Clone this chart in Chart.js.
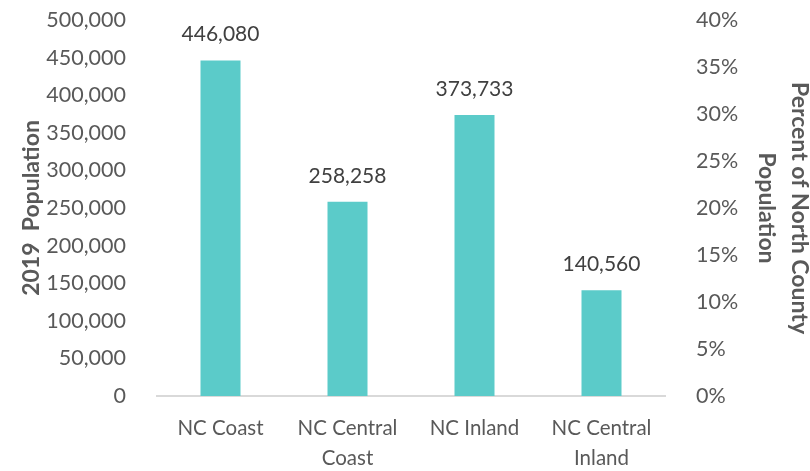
<!DOCTYPE html>
<html>
<head>
<meta charset="utf-8">
<script src="https://cdn.jsdelivr.net/npm/chart.js@4"></script>
<style>
  html, body { margin: 0; padding: 0; background: #fff; overflow: hidden; }
  #wrap { width: 810px; height: 471px; position: relative; }
</style>
</head>
<body>
<div id="wrap"><canvas id="chart"></canvas></div>
<script>
const regions = [["NC Coast"], ["NC Central", "Coast"], ["NC Inland"], ["NC Central", "Inland"]]
const population = [446080, 258258, 373733, 140560]
const percentTicks = [0, 5, 10, 15, 20, 25, 30, 35, 40]

const textGrey = "#595959"
const font = "Lato, 'Open Sans', sans-serif"

// value labels above each bar
const valueLabels = {
  id: "valueLabels",
  afterDatasetsDraw(chart) {
    const { ctx } = chart
    const meta = chart.getDatasetMeta(0)
    ctx.save()
    ctx.font = `21px ${font}`
    ctx.fillStyle = "#404040"
    ctx.textAlign = "center"
    ctx.textBaseline = "middle"
    meta.data.forEach((bar, i) => {
      ctx.fillText(population[i].toLocaleString("en-US"), bar.x, bar.y - 26)
    })
    ctx.restore()
  }
}

// fixed axis box sizes so the plot area lines up with the original
const fitVertical = width => s => {
  s.width = width
  s.paddingTop = 0
  s.paddingBottom = 0
}

new Chart(document.getElementById("chart"), {
  type: "bar",
  data: {
    labels: regions,
    datasets: [{
      data: population,
      backgroundColor: "#5BCBC9",
      barPercentage: 0.315,
      categoryPercentage: 1,
      yAxisID: "y"
    }]
  },
  options: {
    responsive: true,
    maintainAspectRatio: false,
    animation: false,
    layout: { padding: { top: 20, left: 0, right: 0, bottom: 0 } },
    plugins: { legend: { display: false }, tooltip: { enabled: false } },
    scales: {
      x: {
        grid: { display: false },
        border: { color: "#D9D9D9", width: 2 },
        afterFit: s => { s.height = 75 },
        ticks: {
          color: textGrey,
          font: { family: font, size: 20.5, lineHeight: 1.45 },
          padding: 10,
          maxRotation: 0
        }
      },
      y: {
        position: "left",
        min: 0,
        max: 500000,
        grid: { display: false },
        border: { display: false },
        afterFit: fitVertical(157),
        ticks: {
          stepSize: 50000,
          color: textGrey,
          padding: 23,
          font: { family: font, size: 21.5 },
          callback: v => v.toLocaleString("en-US")
        },
        title: {
          display: true,
          text: "2019  Population",
          color: textGrey,
          font: { family: font, size: 23, weight: "bold", lineHeight: 1.2 },
          padding: { top: 18, bottom: 0 }
        }
      },
      y1: {
        position: "right",
        min: 0,
        max: 40,
        grid: { display: false },
        border: { display: false },
        afterFit: fitVertical(145),
        afterBuildTicks: axis => { axis.ticks = percentTicks.map(v => ({ value: v })) },
        ticks: {
          color: textGrey,
          padding: 23,
          font: { family: font, size: 21.5 },
          callback: v => v + "%"
        },
        title: {
          display: true,
          text: ["Percent of North County", "Population"],
          color: textGrey,
          font: { family: font, size: 23, weight: "bold", lineHeight: "33px" },
          padding: { top: -6, bottom: 0 }
        }
      }
    }
  },
  plugins: [valueLabels]
})
</script>
</body>
</html>
